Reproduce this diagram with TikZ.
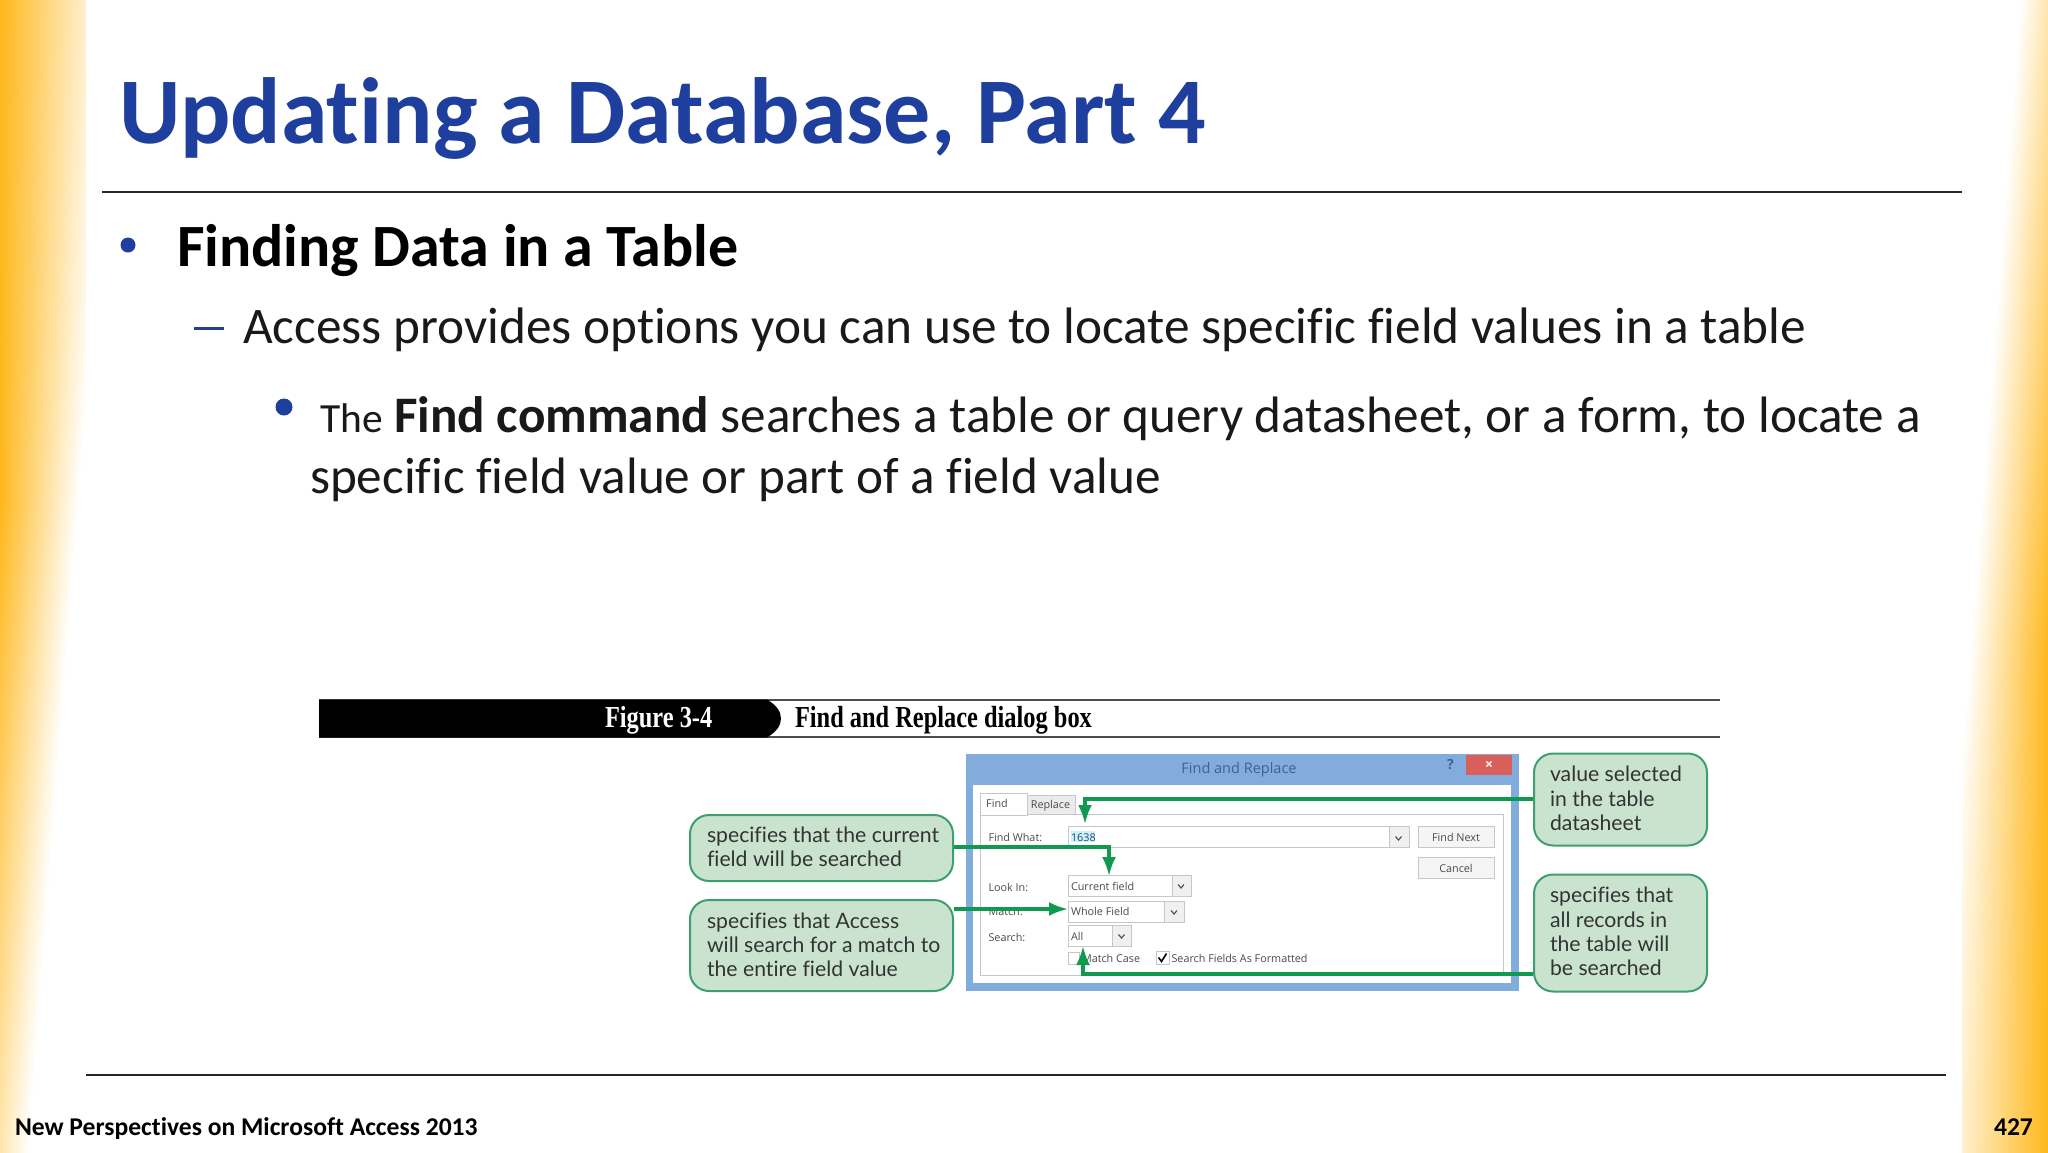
\documentclass[tikz,border=0pt]{standalone}
\usepackage{fontspec}
\usetikzlibrary{arrows.meta}
\setmainfont[Ligatures=NoCommon]{Carlito}
\newfontfamily\calloutfont[Ligatures=NoCommon]{Lato}
\newfontfamily\uifont{Open Sans}
\newfontfamily\capfont[FakeStretch=0.8]{Liberation Serif}
\definecolor{orng}{HTML}{FFB81C}
\definecolor{titleblue}{HTML}{1F3F9E}
\definecolor{calloutfill}{HTML}{CAE3CE}
\definecolor{calloutline}{HTML}{3D9E70}
\definecolor{connector}{HTML}{109A50}
\definecolor{frameblue}{HTML}{82ACDC}
\definecolor{uitext}{HTML}{4A4A4A}
\definecolor{uiline}{HTML}{C4C8CC}
\definecolor{closered}{HTML}{D9605A}
\definecolor{dlgtitlec}{HTML}{3F6390}
\newcommand{\fs}[1]{\fontsize{#1}{#1}\selectfont}
\newcommand{\bx}[6]{\node[#6,anchor=north west,inner sep=0pt,minimum width={(#4-#2)*1pt},minimum height={(#5-#3)*1pt}] (#1) at (#2,#3) {};}
\newcommand{\chev}[2]{\draw[uitext,line width=1.1pt] (#1-3,#2-1.5) -- (#1,#2+2) -- (#1+3,#2-1.5);}
\tikzset{
  txt/.style={anchor=base west,inner sep=0pt,outer sep=0pt},
  rulerline/.style={line width=2pt,draw=black!85},
  callout/.style={draw=calloutline,fill=calloutfill,line width=2pt,rounded corners=19pt,anchor=north west,inner sep=0pt},
  calloutxt/.style={txt,font=\calloutfont\fs{21.2},text=black!80},
  uilabel/.style={txt,font=\uifont\fs{10.8},text=uitext},
  field/.style={draw=uiline,fill=white,line width=1.2pt},
  ddbtn/.style={draw=uiline,fill=black!6,line width=1.2pt},
  uibtn/.style={draw=uiline,fill=black!4,line width=1.4pt},
  conn/.style={draw=connector,line width=3.2pt,-{Latex[length=19pt,width=14pt]}},
}
\begin{document}
\begin{tikzpicture}[x=1pt,y=-1pt]
\useasboundingbox (0,0) rectangle (2048,1152);
\fill[white] (0,0) rectangle (2048,1152);
% side bands: a gradient that fades toward the far end
\begin{scope}
\clip (0,0) rectangle (86,1152);
\foreach \yy in {0,8,...,1144}{
  \pgfmathsetmacro{\W}{\yy<350 ? 110-\yy/350*20 : 90-(\yy-350)/802*62}
  \pgfmathsetmacro{\A}{\yy<500 ? 100 : 100-(\yy-500)/652*65}
  \shade[left color=orng!\A!white,right color=white] (0,\yy) rectangle (\W,\yy+9);
}
\end{scope}
\begin{scope}
\clip (1962,0) rectangle (2048,1152);
\foreach \yy in {0,8,...,1144}{
  \pgfmathsetmacro{\W}{\yy<350 ? 110-\yy/350*20 : 90-(\yy-350)/802*62}
  \pgfmathsetmacro{\A}{\yy<500 ? 100 : 100-(\yy-500)/652*65}
  \shade[right color=orng!\A!white,left color=white] (2048-\W,1152-\yy) rectangle (2048,1143-\yy);
}
\end{scope}
% title and rules
\node[txt,font=\bfseries\fs{94},text=titleblue] (title) at (119,143) {Updating a Database, Part 4};
\draw[rulerline] (102,192) -- (1962,192);
\draw[rulerline] (86,1075) -- (1946,1075);
% bullets
\fill[titleblue] (128,245) circle (7.5);
\node[txt,font=\bfseries\fs{60},text=black] (b1) at (177,266) {Finding Data in a Table};
\fill[titleblue] (194,326.5) rectangle (224,330);
\node[txt,font=\fs{51.3},text=black!90] (b2) at (243,343) {Access provides options you can use to locate specific field values in a table};
\fill[titleblue] (284,407) circle (8.5);
\node[txt,font=\fs{51.2},text=black!90] (b3) at (320,432) {{\fs{41.5}The} \textbf{Find command} searches a table or query datasheet, or a form, to locate a};
\node[txt,font=\fs{51.2},text=black!90] (b4) at (310,493) {specific field value or part of a field value};
% figure heading
\draw[line width=2pt,draw=black!70] (319,700) -- (1720,700);
\draw[line width=2pt,draw=black!70] (319,737) -- (1720,737);
\fill[black] (319,699.5) -- (767,699.5) .. controls (776,705) and (781,711) .. (781,718.5) .. controls (781,726) and (776,732) .. (767,737.5) -- (319,737.5) -- cycle;
\node[txt,font=\capfont\bfseries\fs{30.5},text=white] (figno) at (605,727) {Figure 3-4};
\node[txt,font=\capfont\bfseries\fs{30.5},text=black] (figcap) at (795,727) {Find and Replace dialog box};
% dialog
\bx{dlg}{965.5}{754}{1518.5}{990.5}{fill=frameblue}
\bx{pane}{973}{785}{1511}{983}{fill=white}
\bx{closebtn}{1465.5}{755}{1512}{775}{fill=closered}
\node[font=\uifont\bfseries\fs{14},text=white] (closex) at (1489,765) {×};
\node[font=\uifont\bfseries\fs{14},text=dlgtitlec] (help) at (1450.5,765) {?};
\node[font=\uifont\fs{14.5},text=dlgtitlec] (dlgtitle) at (1239,770) {Find and Replace};
\bx{tabbox}{980}{814}{1502.5}{975}{draw=uiline,line width=1.3pt}
\bx{tabrep}{1027}{795}{1075}{814}{draw=uiline,fill=black!8,line width=1.2pt}
\bx{tabfind}{980}{793}{1027}{815}{draw=uiline,fill=white,line width=1.2pt}
\draw[white,line width=2pt] (981,814) -- (1026,814);
\node[font=\uifont\fs{10.8},text=uitext] (tfind) at (997,803) {Find};
\node[font=\uifont\fs{10.8},text=uitext] (trep) at (1050.5,806) {Replace};
% find what
\node[uilabel] (lfw) at (988.5,841) {Find What:};
\bx{ffw}{1068}{826}{1409}{847}{field}
\bx{dfw}{1388.5}{826}{1409}{847}{ddbtn}
\chev{1398.5}{838}
\bx{hl}{1071}{831}{1095}{842}{fill=blue!25!cyan!20!white}
\node[uilabel,text=dlgtitlec!70!black] (v1638) at (1071,841) {1638};
% buttons
\bx{bnext}{1418}{826}{1494}{847}{uibtn}
\node[font=\uifont\fs{10.8},text=uitext] (tnext) at (1456,837) {Find Next};
\bx{bcancel}{1418}{857}{1494}{878}{uibtn}
\node[font=\uifont\fs{10.8},text=uitext] (tcancel) at (1456,868) {Cancel};
% look in
\node[uilabel] (llook) at (988.5,891) {Look In:};
\bx{flook}{1068}{875}{1190.5}{896}{field}
\bx{dlook}{1171.5}{875}{1190.5}{896}{ddbtn}
\chev{1181}{886}
\node[uilabel] (vlook) at (1071,890) {Current field};
% match
\node[uilabel] (lmatch) at (988.5,915) {Match:};
\bx{fmatch}{1068}{901}{1184}{922}{field}
\bx{dmatch}{1164}{901}{1184}{922}{ddbtn}
\chev{1174}{912}
\node[uilabel] (vmatch) at (1071,915) {Whole Field};
% search
\node[uilabel] (lsearch) at (988.5,941) {Search:};
\bx{fsearch}{1068}{925}{1131}{946}{field}
\bx{dsearch}{1112}{925}{1131}{946}{ddbtn}
\chev{1121.5}{936}
\node[uilabel] (vsearch) at (1071,940) {All};
% check boxes
\bx{cb1}{1068}{952}{1079}{964}{field}
\node[uilabel] (tmc) at (1082,962) {Match Case};
\bx{cb2}{1155.5}{951}{1169}{964}{field}
\draw[black,line width=1.6pt] (1158.5,957.5) -- (1161.5,961.5) -- (1166.5,953.5);
\node[uilabel] (tsf) at (1171.5,962) {Search Fields As Formatted};
% callouts
\node[callout,minimum width=263pt,minimum height=66pt] (c1) at (689,814) {};
\node[calloutxt] (c1a) at (707,842) {specifies that the current};
\node[calloutxt] (c1b) at (707,866) {field will be searched};
\node[callout,minimum width=263pt,minimum height=91pt] (c2) at (689,899) {};
\node[calloutxt] (c2a) at (707,928) {specifies that Access};
\node[calloutxt] (c2b) at (707,952) {will search for a match to};
\node[calloutxt] (c2c) at (707,976) {the entire field value};
\node[callout,minimum width=173pt,minimum height=92pt] (c3) at (1533,752.5) {};
\node[calloutxt] (c3a) at (1550,781) {value selected};
\node[calloutxt] (c3b) at (1550,806) {in the table};
\node[calloutxt] (c3c) at (1550,830) {datasheet};
\node[callout,minimum width=173pt,minimum height=117pt] (c4) at (1533,873.5) {};
\node[calloutxt] (c4a) at (1550,902) {specifies that};
\node[calloutxt] (c4b) at (1550,927) {all records in};
\node[calloutxt] (c4c) at (1550,951) {the table will};
\node[calloutxt] (c4d) at (1550,975) {be searched};
% connectors
\coordinate (t3) at (1085,824);
\coordinate (t1) at (1109,876);
\coordinate (t2) at (1068,909);
\coordinate (t4) at (1083,946);
\draw[conn] (c3.west |- 0,799) -| (t3);
\draw[conn] (c1.east |- 0,847) -| (t1);
\draw[conn] (c2.east |- t2) -- (t2);
\draw[conn] (c4.west |- 0,974) -| (t4);
% footer
\node[txt,font=\bfseries\fs{25.6},text=black] (foot) at (15,1135) {New Perspectives on Microsoft Access 2013};
\node[txt,font=\bfseries\fs{25.6},text=black] (pg) at (1994,1135) {427};
\end{tikzpicture}
\end{document}
